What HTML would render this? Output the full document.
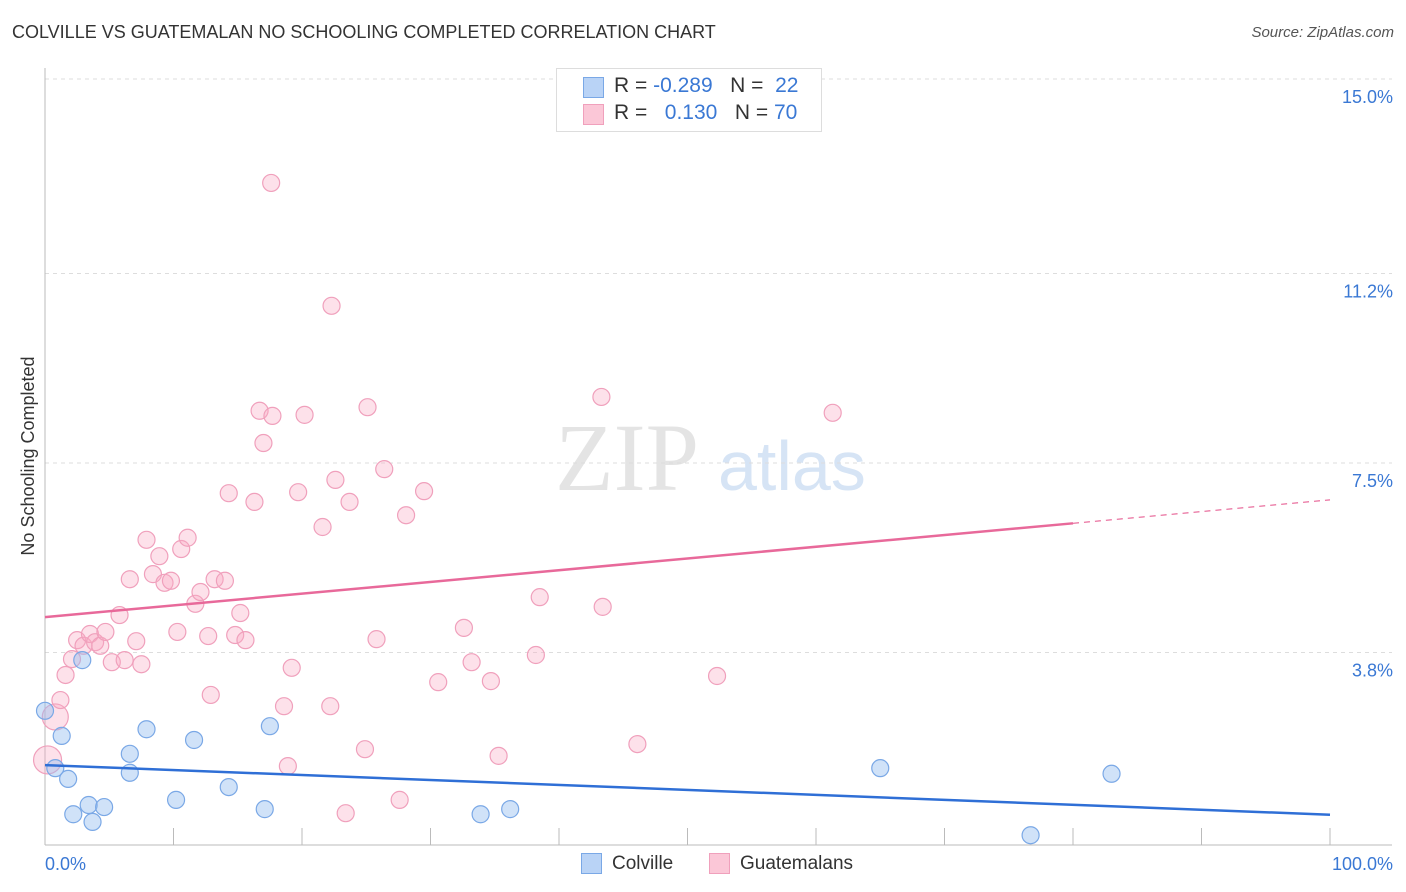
<!DOCTYPE html>
<html><head><meta charset="utf-8">
<style>
body{margin:0;background:#fff;font-family:"Liberation Sans",sans-serif;}
#wrap{position:relative;width:1406px;height:892px;overflow:hidden;}
.t{position:absolute;white-space:nowrap;}
</style></head><body>
<div id="wrap">
<div class="t" style="left:12px;top:22px;font-size:18px;color:#333;">COLVILLE VS GUATEMALAN NO SCHOOLING COMPLETED CORRELATION CHART</div>
<div class="t" style="right:12px;top:24px;font-size:15px;color:#555;font-style:italic;">Source: ZipAtlas.com</div>
<svg id="svg" width="1406" height="892" style="position:absolute;left:0;top:0"></svg>
</div>
<script>
const blueX=[0,0.8,1.3,1.8,2.2,2.9,3.4,3.7,4.6,6.6,6.6,7.9,10.2,11.6,14.3,17.1,17.5,33.9,36.2,65.0,83.0,76.7];
const blueY=[2.66,1.54,2.17,1.33,0.64,3.65,0.82,0.49,0.78,1.82,1.45,2.30,0.92,2.09,1.17,0.74,2.36,0.64,0.74,1.54,1.43,0.23];
const pinkX=[0.2,0.8,1.2,1.6,2.1,2.5,3.0,3.5,3.9,4.3,4.7,5.2,5.8,6.2,6.6,7.1,7.5,7.9,8.4,8.9,9.3,9.8,10.3,10.6,11.1,11.7,12.1,12.7,12.9,13.2,14.0,14.3,14.8,15.2,15.6,16.3,16.7,17.0,17.6,17.7,18.6,18.9,19.2,19.7,20.2,21.6,22.2,22.3,22.6,23.4,23.7,24.9,25.1,25.8,26.4,27.6,28.1,29.5,30.6,32.6,33.2,34.7,35.3,38.2,38.5,43.3,43.4,46.1,52.3,61.3];
const pinkY=[1.70,2.54,2.87,3.36,3.67,4.04,3.93,4.16,4.00,3.93,4.20,3.61,4.53,3.65,5.23,4.02,3.57,6.00,5.33,5.68,5.16,5.20,4.20,5.82,6.04,4.75,4.98,4.12,2.97,5.23,5.20,6.91,4.14,4.57,4.04,6.74,8.52,7.89,12.97,8.42,2.75,1.58,3.50,6.93,8.44,6.25,2.75,10.57,7.17,0.66,6.74,1.91,8.59,4.06,7.38,0.92,6.48,6.95,3.22,4.28,3.61,3.24,1.78,3.75,4.88,8.79,4.69,2.01,3.34,8.48];
const pinkSize=[24,22];
const blueTrend=[1.60,0.63];
const pinkTrend=[4.49,6.78];
const yTicks=[15.0,11.2,7.5,3.8];
const yTickLabels=["15.0%","11.2%","7.5%","3.8%"];
const xTickLabels=["0.0%","100.0%"];

const NS="http://www.w3.org/2000/svg";
const svg=document.getElementById('svg');
const X=v=>45+v*12.85;
const Y=v=>847-v*51.2;
function mk(t,a){const e=document.createElementNS(NS,t);for(const k in a)e.setAttribute(k,a[k]);svg.appendChild(e);return e;}
let w=mk('text',{x:555,y:490,'font-size':96,fill:'#e4e4e4','font-family':'Liberation Serif'});w.textContent='ZIP';


let w2=mk('text',{x:718,y:490,'font-size':70,fill:'#d6e4f5','font-family':'Liberation Sans'});w2.textContent='atlas';


yTicks.forEach((v,i)=>{
 const yy=i==0?79:Y(v);
 const g=mk('line',{x1:45,x2:1392,y1:yy,y2:yy,stroke:'#ddd','stroke-dasharray':'4,4'});
 
 
 const t=mk('text',{x:1393,y:yy+24,'text-anchor':'end','font-size':18,fill:'#3a78d4'});t.textContent=yTickLabels[i];
 
 
});
let ax=mk('line',{x1:45,x2:45,y1:68,y2:845,stroke:'#bbb'});


let bx=mk('line',{x1:45,x2:1392,y1:845,y2:845,stroke:'#bbb'});


for(let i=0;i<=10;i++){const tk=mk('line',{x1:X(i*10),x2:X(i*10),y1:828,y2:845,stroke:'#bbb'});
 
 }
let xl=mk('text',{x:45,y:870,'font-size':18,fill:'#3a78d4'});xl.textContent=xTickLabels[0];


let xr=mk('text',{x:1393,y:870,'font-size':18,fill:'#3a78d4','text-anchor':'end'});xr.textContent=xTickLabels[1];


let yt=mk('text',{x:0,y:0,'font-size':18,fill:'#333','text-anchor':'middle',transform:'translate(34,456) rotate(-90)'});yt.textContent='No Schooling Completed';


pinkX.forEach((x,i)=>{const r=i<pinkSize.length?pinkSize[i]/2+2:8.5;
 const c=mk('circle',{cx:X(x),cy:Y(pinkY[i]),r:r,fill:'rgba(248,170,196,0.35)',stroke:'#f0a0bc','stroke-width':1.2});
 
 });
blueX.forEach((x,i)=>{
 const c=mk('circle',{cx:X(x),cy:Y(blueY[i]),r:8.5,fill:'rgba(150,190,240,0.45)',stroke:'#7aa8e6','stroke-width':1.2});
 
 });
const pAt=x=>pinkTrend[0]+(pinkTrend[1]-pinkTrend[0])*x/100;
let pl=mk('line',{x1:X(0),y1:Y(pAt(0)),x2:X(80),y2:Y(pAt(80)),stroke:'#e8699a','stroke-width':2.5});


let pd=mk('line',{x1:X(80),y1:Y(pAt(80)),x2:X(100),y2:Y(pAt(100)),stroke:'#e8699a','stroke-width':1.2,'stroke-dasharray':'6,5'});


let bl=mk('line',{x1:X(0),y1:Y(blueTrend[0]),x2:X(100),y2:Y(blueTrend[1]),stroke:'#2f6fd6','stroke-width':2.5});


</script>
<div class="t" style="left:556px;top:68px;width:264px;height:62px;border:1px solid #ddd;background:#fff;">
 <div class="t" style="left:26px;top:8px;width:19px;height:19px;background:#b9d3f6;border:1px solid #7aa8e6;"></div>
 <div class="t" style="left:57px;top:5px;font-size:21px;color:#333;">R = <span style="color:#3a78d4">-0.289</span>&nbsp;&nbsp;&nbsp;N = &nbsp;<span style="color:#3a78d4">22</span></div>
 <div class="t" style="left:26px;top:35px;width:19px;height:19px;background:#fbc7d7;border:1px solid #f0a0bc;"></div>
 <div class="t" style="left:57px;top:32px;font-size:21px;color:#333;">R = &nbsp;&nbsp;<span style="color:#3a78d4">0.130</span>&nbsp;&nbsp;&nbsp;N = <span style="color:#3a78d4">70</span></div>
</div>
<div class="t" style="left:581px;top:853px;width:19px;height:19px;background:#b9d3f6;border:1px solid #7aa8e6;"></div>
<div class="t" style="left:612px;top:853px;font-size:19px;color:#333;">Colville</div>
<div class="t" style="left:709px;top:853px;width:19px;height:19px;background:#fbc7d7;border:1px solid #f0a0bc;"></div>
<div class="t" style="left:740px;top:853px;font-size:19px;color:#333;">Guatemalans</div>
</body></html>
